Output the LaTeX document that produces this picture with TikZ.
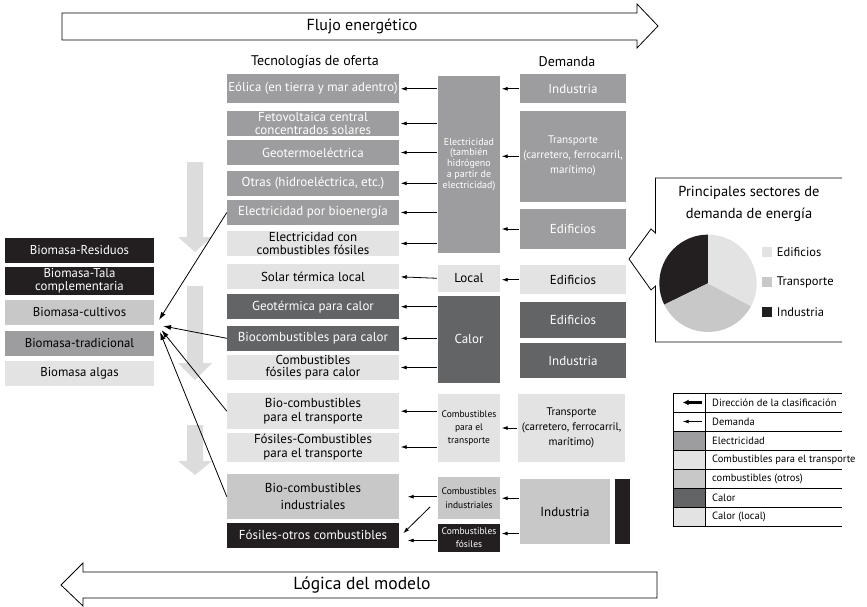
\documentclass[tikz,border=0pt]{standalone}
\usepackage{fontspec}
\setmainfont{PT Sans}
\usetikzlibrary{arrows.meta}
\definecolor{celec}{HTML}{9D9D9F}
\definecolor{clight}{HTML}{E3E3E4}
\definecolor{cmid}{HTML}{C8C8C9}
\definecolor{cheat}{HTML}{636466}
\definecolor{cblack}{HTML}{231F20}
\definecolor{carrow}{HTML}{DCDCDD}
\newcommand{\fs}[2]{\fontsize{#1}{#2}\selectfont}

\begin{document}
\begin{tikzpicture}[x=1pt, y=-1pt, >={Latex[length=6pt,width=4pt]},
	every node/.style={font=\fs{13}{13}},
	box/.style={inner sep=0pt, align=center, minimum height=25},
	tech/.style={box, minimum width=172},
	mid/.style={box, minimum width=62},
	dem/.style={box, minimum width=106},
	bio/.style={box, minimum width=149, font=\fs{12.8}{12.5}},
	elecf/.style={fill=celec, text=white},
	lightf/.style={fill=clight},
	midf/.style={fill=cmid},
	heatf/.style={fill=cheat, text=white},
	blackf/.style={fill=cblack, text=white},
	keytext/.style={anchor=west, inner sep=0pt, font=\fs{10.5}{10.5}},
	flow/.style={->, line width=0.8pt, shorten <=1pt, shorten >=1.5pt},
	bioarrow/.style={-{Latex[length=8pt,width=5pt]}, line width=0.8pt}]
	\useasboundingbox (0,0) rectangle (867,607);

	\draw[fill=white, line width=0.8pt] (62,13) -- (637,13) -- (637,4) -- (658,26) -- (637,48) -- (637,40) -- (62,40) -- cycle;
	\node (flujo) at (362,26) [font=\fs{16}{16}] {Flujo energético};
	\draw[fill=white, line width=0.8pt] (657,572) -- (83,572) -- (83,563) -- (61,585) -- (83,606) -- (83,598) -- (657,598) -- cycle;
	\node (logica) at (362,585) [font=\fs{17.5}{17.5}] {Lógica del modelo};
	\node (tecno) at (315,62) [font=\fs{14}{14}] {Tecnologías de oferta};
	\node (deman) at (567,62) [font=\fs{14}{14}] {Demanda};

	\foreach \top/\base/\tip in {162/237/252, 286/363/380, 425/461/475}
		\fill[carrow] (187,\top) -- (203,\top) -- (203,\base) -- (212,\base) -- (195,\tip) -- (178,\base) -- (187,\base) -- cycle;

	\node[tech, elecf, minimum height=29, font=\fs{12.8}{12.8}] (eolica) at (313,88.8) {Eólica (en tierra y mar adentro)};
	\node[tech, elecf, font=\fs{13}{12.3}] (fotovolt) at (313,123.5) {Fetovoltaica central\\concentrados solares};
	\node[tech, elecf] (geoelec) at (313,152.5) {Geotermoeléctrica};
	\node[tech, elecf] (otras) at (313,183.3) {Otras (hidroeléctrica, etc.)};
	\node[tech, elecf] (bioelec) at (313,212.5) {Electricidad por bioenergía};
	\node[tech, lightf, font=\fs{13}{12.3}] (fosilelec) at (313,243.5) {Electricidad con\\combustibles fósiles};
	\node[tech, lightf] (solar) at (313,276.8) {Solar térmica local};
	\node[tech, heatf] (geocalor) at (313,306.7) {Geotérmica para calor};
	\node[tech, heatf] (biocalor) at (313,338.3) {Biocombustibles para calor};
	\node[tech, lightf, font=\fs{13}{12.3}] (fosilcalor) at (313,367.5) {Combustibles\\fósiles para calor};
	\node[tech, lightf, minimum height=36, font=\fs{13}{13.3}] (biotrans) at (313,411.2) {Bio-combustibles\\para el transporte};
	\node[tech, lightf, minimum height=29, font=\fs{13}{13.3}] (fosiltrans) at (313,447) {Fósiles-Combustibles\\para el transporte};
	\node[tech, midf, minimum height=45, font=\fs{13}{16.5}] (bioind) at (313,496.7) {Bio-combustibles\\industriales};
	\node[tech, blackf] (fosilotros) at (313,535) {Fósiles-otros combustibles};

	\node[mid, elecf, minimum height=177, font=\fs{10}{10.8}] (elec) at (469,164.3) {Electricidad\\(también\\hidrógeno\\a partir de\\electricidad)};
	\node[mid, lightf, minimum height=27] (local) at (469,278.3) {Local};
	\node[mid, heatf, minimum height=87] (calor) at (469,339.3) {Calor};
	\node[mid, lightf, minimum height=68, font=\fs{9.5}{13}] (combtrans) at (469,428.2) {Combustibles\\para el\\transporte};
	\node[mid, midf, minimum height=42, font=\fs{9.5}{13.3}] (combind) at (469,498.2) {Combustibles\\industriales};
	\node[mid, blackf, minimum height=28, font=\fs{9.5}{13.5}] (combfos) at (469,537.5) {Combustibles\\fósiles};

	\node[dem, elecf, minimum height=29] (dind) at (573,88.8) {Industria};
	\node[dem, elecf, minimum height=91, font=\fs{11}{15}] (dtrans) at (573,156.3) {Transporte\\(carretero, ferrocarril,\\marítimo)};
	\node[dem, elecf, minimum height=40] (dedif) at (573,229) {Edificios};
	\node[dem, lightf, minimum height=29] (dedifloc) at (573,279.7) {Edificios};
	\node[dem, heatf, minimum height=36] (dedifcal) at (573,319.7) {Edificios};
	\node[dem, heatf, minimum height=35] (dindcal) at (573,360.8) {Industria};
	\node[box, lightf, minimum width=107, minimum height=68, font=\fs{11}{15}] (dtransc) at (571.5,428) {Transporte\\(carretero, ferrocarril,\\marítimo)};
	\node[box, midf, minimum width=90, minimum height=65] (dindc) at (565,511.7) {Industria};
	\node[box, blackf, minimum width=15, minimum height=65] (dbar) at (622.5,511.7) {};

	\foreach \t in {eolica, fotovolt, geoelec, otras, bioelec, fosilelec}
		\draw[flow] (elec.west |- \t.east) -- (\t.east);
	\draw[flow] (local.west) -- (solar.east);
	\foreach \t in {geocalor, biocalor, fosilcalor}
		\draw[flow] (calor.west |- \t.east) -- (\t.east);
	\foreach \t in {biotrans, fosiltrans}
		\draw[flow] (combtrans.west |- \t.east) -- (\t.east);
	\draw[flow] (combind.west |- bioind.east) -- ([xshift=7pt]bioind.east);
	\draw[flow] ([shift={(-7,8)}]combind.west) -- ([shift={(3,12)}]fosilotros.north east);
	\draw[flow] ([yshift=-3pt]combfos.west) -- ([xshift=7pt,yshift=-3pt]combfos.west -| fosilotros.east);

	\foreach \d in {dind, dtrans, dedif}
		\draw[flow] (\d.west) -- (elec.east |- \d.west);
	\draw[flow] (dedifloc.west) -- (local.east |- dedifloc.west);
	\draw[flow] (dtransc.west) -- (combtrans.east |- dtransc.west);
	\draw[flow] (dindc.west |- combind.east) -- (combind.east);
	\draw[flow] ([yshift=4pt]dindc.west |- combfos.east) -- ([yshift=4pt]combfos.east);

	\node[bio, blackf, minimum height=24.4] (resid) at (79.5,250.5) {Biomasa-Residuos};
	\node[bio, blackf, minimum height=28.3] (tala) at (79.5,280.8) {Biomasa-Tala\\complementaria};
	\node[bio, midf] (cultivos) at (79.5,312.5) {Biomasa-cultivos};
	\node[bio, elecf, text=black] (tradic) at (79.5,343.5) {Biomasa-tradicional};
	\node[bio, lightf, minimum height=24.7] (algas) at (79.5,373.3) {Biomasa algas};

	\coordinate (bmhub) at (161,327);
	\draw[bioarrow] (bioelec.west) -- ([shift={(-2,-7)}]bmhub);
	\draw[bioarrow] (biocalor.west) -- ([shift={(2,-1)}]bmhub);
	\draw[bioarrow] (biotrans.west) -- ([shift={(0.5,3)}]bmhub);
	\draw[bioarrow] (bioind.west) -- ([shift={(-1,5)}]bmhub);

	\draw[line width=0.8pt] (842,178) -- (655.5,178) -- (655.5,233) -- (651,229) -- (629,259) -- (651,290) -- (655.5,286) -- (655.5,342) -- (842,342);
	\node (ptitle) at (749,204) [align=center, font=\fs{14.5}{21.5}] {Principales sectores de\\demanda de energía};
	\coordinate (pie) at (708,283.3);
	\fill[cblack] (pie) -- ++(90:48.7pt) arc[start angle=90, end angle=206, radius=48.7pt] -- cycle;
	\fill[cmid] (pie) -- ++(206:48.7pt) arc[start angle=206, end angle=332, radius=48.7pt] -- cycle;
	\fill[clight] (pie) -- ++(332:48.7pt) arc[start angle=332, end angle=450, radius=48.7pt] -- cycle;
	\foreach \c/\n/\lab/\y in {clight/ledif/Edificios/252, cmid/ltrans/Transporte/282, cblack/lind/Industria/312} {
		\node[fill=\c, minimum size=10, inner sep=0pt] (\n box) at (767.3,\y) {};
		\node[anchor=west, inner sep=0pt, font=\fs{12.5}{12.5}] (\n) at (776.7,\y) {\lab};
	}

	\foreach \r/\c/\n/\lab in {3/celec/kelec/Electricidad, 4/clight/ktrans/Combustibles para el transporte, 5/cmid/kotros/combustibles (otros), 6/cheat/kcalor/Calor, 7/clight/klocal/Calor (local)} {
		\node[fill=\c, minimum width=32, minimum height=19, inner sep=0pt] (\n box) at (689.3,383.5+19*\r) {};
		\node[keytext] (\n) at (712,383.5+19*\r) {\lab};
	}
	\node[keytext] (kdir) at (712,402.5) {Dirección de la clasificación};
	\node[keytext] (kdem) at (712,421.5) {Demanda};
	\coordinate (kdirtip) at (682.7,402.5);
	\coordinate (kdemtip) at (682.7,421.5);
	\draw[-{Latex[length=6pt,width=6pt]}, line width=2.2pt] (701.7,402.5) -- (kdirtip);
	\draw[->, line width=0.8pt] (701.7,421.5) -- (kdemtip);
	\foreach \y in {393,412,431,450,469,488,507,526}
		\draw[line width=0.8pt] (673.3,\y) -- (841.7,\y);
	\draw[line width=1.2pt] (673.3,393) -- (673.3,526);
	\draw[line width=0.8pt] (705.3,393) -- (705.3,526);
\end{tikzpicture}
\end{document}
